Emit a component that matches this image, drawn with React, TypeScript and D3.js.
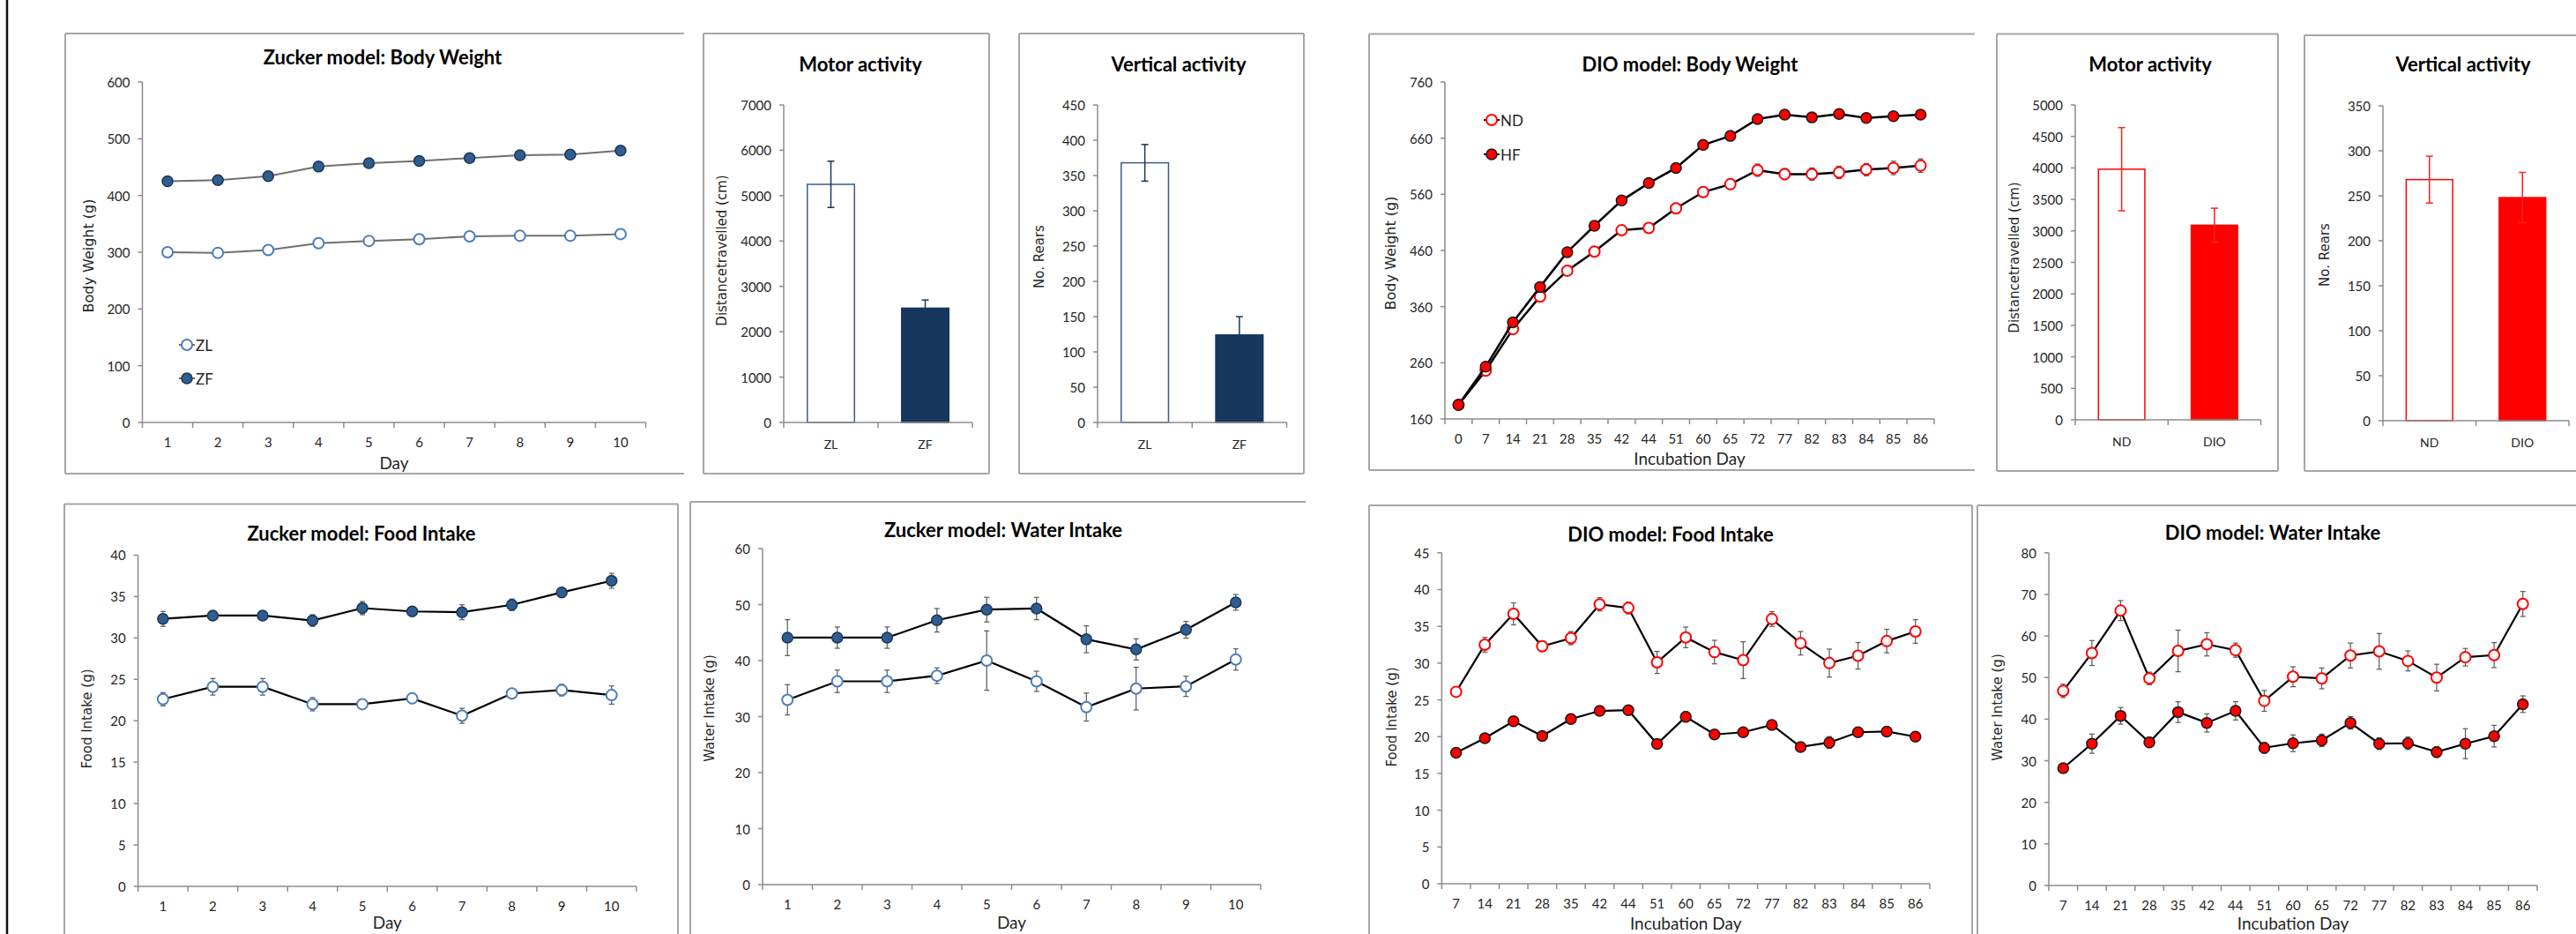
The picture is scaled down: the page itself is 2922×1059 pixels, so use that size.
import React, { useEffect } from 'react';
import * as d3 from 'd3';

const W = 2922;
const H = 1059;

// ---------- data ----------
const zuckerDays = ['1', '2', '3', '4', '5', '6', '7', '8', '9', '10'];
const zlWeight = [300, 299, 304, 316, 320, 323, 328, 329, 329, 332];
const zlWeightErr = [3, 3, 3, 3, 3, 3, 3, 3, 3, 3];
const zfWeight = [425, 427, 434, 451, 457, 461, 466, 471, 472, 479];
const zfWeightErr = [5, 5, 5, 5, 5, 5, 5, 5, 5, 5];

const zlFood = [22.6, 24.1, 24.1, 22.0, 22.0, 22.7, 20.6, 23.3, 23.7, 23.1];
const zlFoodErr = [0.8, 1.0, 1.0, 0.8, 0.5, 0.6, 0.9, 0.5, 0.7, 1.1];
const zfFood = [32.3, 32.7, 32.7, 32.1, 33.6, 33.2, 33.1, 34.0, 35.5, 36.9];
const zfFoodErr = [0.9, 0.5, 0.5, 0.7, 0.8, 0.5, 0.9, 0.7, 0.5, 0.9];

const zlWater = [33.0, 36.3, 36.3, 37.3, 40.0, 36.3, 31.7, 35.0, 35.4, 40.2];
const zlWaterErr = [2.7, 2.0, 2.0, 1.4, 5.3, 1.8, 2.5, 3.8, 1.8, 1.9];
const zfWater = [44.1, 44.1, 44.1, 47.2, 49.1, 49.3, 43.8, 42.0, 45.5, 50.4];
const zfWaterErr = [3.2, 1.9, 1.9, 2.1, 2.2, 2.0, 2.4, 1.9, 1.5, 1.4];

const dioWeightDays = ['0', '7', '14', '21', '28', '35', '42', '44', '51', '60', '65', '72', '77', '82', '83', '84', '85', '86'];
const ndWeight = [185, 246, 320, 378, 424, 458, 496, 500, 535, 564, 578, 603, 596, 596, 599, 604, 607, 611];
const ndWeightErr = [2, 3, 4, 4, 4, 5, 6, 7, 9, 9, 9, 11, 10, 11, 11, 11, 12, 12];
const hfWeight = [185, 253, 332, 395, 457, 504, 549, 580, 607, 648, 664, 694, 702, 697, 703, 696, 699, 702];
const hfWeightErr = [2, 3, 3, 3, 3, 4, 4, 7, 5, 5, 5, 5, 5, 5, 5, 6, 5, 5];

const dioIntakeDays = ['7', '14', '21', '28', '35', '42', '44', '51', '60', '65', '72', '77', '82', '83', '84', '85', '86'];
const ndFood = [26.1, 32.5, 36.7, 32.3, 33.4, 38.0, 37.5, 30.1, 33.5, 31.5, 30.4, 36.0, 32.7, 30.0, 31.0, 33.0, 34.3];
const ndFoodErr = [0.6, 1.0, 1.5, 0.7, 0.9, 0.9, 0.8, 1.5, 1.4, 1.6, 2.5, 1.0, 1.6, 1.9, 1.8, 1.6, 1.6];
const hfFood = [17.8, 19.8, 22.1, 20.1, 22.4, 23.5, 23.6, 19.0, 22.7, 20.3, 20.6, 21.6, 18.6, 19.2, 20.6, 20.7, 20.0];
const hfFoodErr = [0.5, 0.5, 0.6, 0.5, 0.6, 0.6, 0.6, 0.5, 0.7, 0.6, 0.6, 0.6, 0.5, 0.8, 0.6, 0.6, 0.6];

const ndWater = [46.8, 55.9, 66.1, 49.8, 56.4, 58.0, 56.6, 44.4, 50.2, 49.8, 55.3, 56.3, 54.0, 50.0, 54.9, 55.4, 67.7];
const ndWaterErr = [1.6, 3.0, 2.4, 1.5, 5.0, 2.8, 1.7, 2.5, 2.4, 2.5, 3.0, 4.3, 2.4, 3.2, 2.1, 3.0, 3.0];
const hfWater = [28.2, 34.1, 40.8, 34.4, 41.7, 39.1, 42.0, 33.1, 34.2, 34.9, 39.1, 34.1, 34.2, 32.1, 34.1, 35.9, 43.6];
const hfWaterErr = [1.0, 2.3, 2.0, 1.2, 2.5, 2.2, 2.2, 1.3, 2.0, 1.5, 1.5, 1.4, 1.5, 1.3, 3.6, 2.6, 2.0];

const zuckerGroups = ['ZL', 'ZF'];
const zuckerDistance = [5250, 2520];
const zuckerDistanceErr = [510, 180];
const zuckerRears = [368, 124];
const zuckerRearsErr = [26, 26];

const dioGroups = ['ND', 'DIO'];
const dioDistance = [3980, 3090];
const dioDistanceErr = [660, 270];
const dioRears = [268, 248];
const dioRearsErr = [26, 28];

// ---------- styles ----------
const TITLE_FONT = 'Lato, "Open Sans", sans-serif';
const LABEL_FONT = '"DejaVu Sans", Verdana, sans-serif';
const BORDER = '#a6a6a6';
const AXIS = '#8c8c8c';
const TEXT = '#262626';

const ZL_STYLE = { fill: '#ffffff', stroke: '#4a7ebb', sw: 2 };
const ZF_STYLE = { fill: '#2f5d8f', stroke: '#1c3556', sw: 1.5 };
const ND_STYLE = { fill: '#ffffff', stroke: '#ff0000', sw: 2 };
const HF_STYLE = { fill: '#ff0000', stroke: '#1a1a1a', sw: 1.5 };

// panel borders: which sides are visible
function Border({ b }) {
  const segs = [];
  if (b.sides.includes('l')) segs.push([b.x0, b.y0, b.x0, b.y1]);
  if (b.sides.includes('t')) segs.push([b.x0, b.y0, b.x1, b.y0]);
  if (b.sides.includes('r')) segs.push([b.x1, b.y0, b.x1, b.y1]);
  if (b.sides.includes('b')) segs.push([b.x0, b.y1, b.x1, b.y1]);
  return (
    <g>
      {segs.map((s, i) => (
        <line key={i} x1={s[0]} y1={s[1]} x2={s[2]} y2={s[3]} stroke={BORDER} strokeWidth={2} />
      ))}
    </g>
  );
}

function Axes({ p, x, y, ticks, catLabelDy, catFont }) {
  const { x0, x1, y0, y1 } = p.plot;
  const bounds = d3.range(p.cats.length + 1).map(i => x0 + i * ((x1 - x0) / p.cats.length));
  return (
    <g>
      <line x1={x0} x2={x0} y1={y0} y2={y1} stroke={AXIS} strokeWidth={1.5} />
      <line x1={x0} x2={x1} y1={y1} y2={y1} stroke={AXIS} strokeWidth={1.5} />
      {ticks.map(t => (
        <g key={t}>
          <line x1={x0 - 5} x2={x0} y1={y(t)} y2={y(t)} stroke={AXIS} strokeWidth={1.5} />
          <text x={x0 - 14} y={y(t)} textAnchor="end" dominantBaseline="central"
            fontFamily={TITLE_FONT} fontSize={15} fill={TEXT}>{t}</text>
        </g>
      ))}
      {bounds.map((bx, i) => (
        <line key={i} x1={bx} x2={bx} y1={y1} y2={y1 + 6} stroke={AXIS} strokeWidth={1.5} />
      ))}
      {p.cats.map(c => (
        <text key={c} x={x(c) + x.bandwidth() / 2} y={y1 + catLabelDy} textAnchor="middle"
          dominantBaseline="central" fontFamily={TITLE_FONT} fontSize={catFont} fill={TEXT}>{c}</text>
      ))}
      <text x={p.titleX} y={p.titleY} textAnchor="middle" dominantBaseline="central"
        fontFamily={TITLE_FONT} fontWeight="bold" fontSize={22} fill="#000">{p.title}</text>
      <text transform={`translate(${p.yLabelX},${p.yLabelY}) rotate(-90)`} textAnchor="middle"
        dominantBaseline="central" fontFamily={LABEL_FONT} fontSize={p.yLabelSize || 15} fill={TEXT}>{p.yLabel}</text>
      {p.xLabel && (
        <text x={(x0 + x1) / 2} y={y1 + p.xLabelDy} textAnchor="middle" dominantBaseline="central"
          fontFamily={TITLE_FONT} fontSize={19} fill={TEXT}>{p.xLabel}</text>
      )}
    </g>
  );
}

function Marker({ cx, cy, st, r = 6 }) {
  return <circle cx={cx} cy={cy} r={r} fill={st.fill} stroke={st.stroke} strokeWidth={st.sw} />;
}

function LinePanel({ p }) {
  const { x0, x1, y0, y1 } = p.plot;
  const x = d3.scaleBand().domain(p.cats).range([x0, x1]).padding(0);
  const y = d3.scaleLinear().domain(p.yDomain).range([y1, y0]);
  const ticks = d3.range(p.yDomain[0], p.yDomain[1] + p.yStep / 2, p.yStep);
  const cx = (i: number) => x(p.cats[i]) + x.bandwidth() / 2;
  const line = d3.line<number>().x((_, i) => cx(i)).y(d => y(d));
  return (
    <g>
      <Border b={p.box} />
      <Axes p={p} x={x} y={y} ticks={ticks} catLabelDy={22} catFont={15} />
      {p.series.map((s, si) => (
        <g key={si}>
          {s.values.map((v, i) => (
            <g key={i} stroke="#595959" strokeWidth={1.2}>
              <line x1={cx(i)} x2={cx(i)} y1={y(v - s.errs[i])} y2={y(v + s.errs[i])} />
              <line x1={cx(i) - 3} x2={cx(i) + 3} y1={y(v - s.errs[i])} y2={y(v - s.errs[i])} />
              <line x1={cx(i) - 3} x2={cx(i) + 3} y1={y(v + s.errs[i])} y2={y(v + s.errs[i])} />
            </g>
          ))}
          <path d={line(s.values)} fill="none" stroke={p.lineColor} strokeWidth={p.lineWidth} />
          {s.values.map((v, i) => (
            <Marker key={i} cx={cx(i)} cy={y(v)} st={s.style} />
          ))}
        </g>
      ))}
      {p.legend && p.legend.items.map(([label, st], i) => {
        const ly = p.legend.y + i * p.legend.gap;
        return (
          <g key={label}>
            <line x1={p.legend.x - 9} x2={p.legend.x + 9} y1={ly} y2={ly} stroke={p.lineColor} strokeWidth={2} />
            <Marker cx={p.legend.x} cy={ly} st={st} />
            <text x={p.legend.x + 10} y={ly} dominantBaseline="central" fontFamily={TITLE_FONT}
              fontSize={17} fill={TEXT}>{label}</text>
          </g>
        );
      })}
    </g>
  );
}

function BarPanel({ p }) {
  const { x0, x1, y0, y1 } = p.plot;
  const x = d3.scaleBand().domain(p.cats).range([x0, x1]).paddingInner(0.5).paddingOuter(0.25);
  const y = d3.scaleLinear().domain(p.yDomain).range([y1, y0]);
  const ticks = d3.range(p.yDomain[0], p.yDomain[1] + p.yStep / 2, p.yStep);
  return (
    <g>
      <Border b={p.box} />
      {p.values.map((v, i) => (
        <rect key={i} x={x(p.cats[i])} y={y(v)} width={x.bandwidth()} height={y(0) - y(v)}
          fill={p.styles[i].fill} stroke={p.styles[i].stroke} strokeWidth={1.5} />
      ))}
      <Axes p={p} x={x} y={y} ticks={ticks} catLabelDy={24} catFont={14} />
      {p.values.map((v, i) => {
        const c = x(p.cats[i]) + x.bandwidth() / 2;
        const hi = y(v + p.errs[i]);
        const lo = y(v - p.errs[i]);
        return (
          <g key={i} stroke={p.errColor} strokeWidth={1.5}>
            <line x1={c} x2={c} y1={hi} y2={lo} />
            <line x1={c - 4} x2={c + 4} y1={hi} y2={hi} />
            <line x1={c - 4} x2={c + 4} y1={lo} y2={lo} />
          </g>
        );
      })}
    </g>
  );
}

// ---------- panel layouts ----------
const linePanels = [
  {
    box: { x0: 74, y0: 38, x1: 776, y1: 537, sides: 'ltb' },
    plot: { x0: 161.5, x1: 732.5, y0: 93, y1: 479 },
    title: 'Zucker model: Body Weight', titleX: 434, titleY: 64,
    yLabel: 'Body Weight (g)', yLabelX: 100, yLabelY: 290, yLabelSize: 16,
    xLabel: 'Day', xLabelDy: 45,
    cats: zuckerDays, yDomain: [0, 600], yStep: 100,
    lineColor: '#6f6f6f', lineWidth: 2,
    series: [
      { values: zlWeight, errs: zlWeightErr, style: ZL_STYLE },
      { values: zfWeight, errs: zfWeightErr, style: ZF_STYLE },
    ],
    legend: { x: 212, y: 391, gap: 38, items: [['ZL', ZL_STYLE], ['ZF', ZF_STYLE]] },
  },
  {
    box: { x0: 1553, y0: 38.6, x1: 2240, y1: 533, sides: 'ltb' },
    plot: { x0: 1639, x1: 2194, y0: 93, y1: 475 },
    title: 'DIO model: Body Weight', titleX: 1917, titleY: 72,
    yLabel: 'Body Weight (g)', yLabelX: 1577.5, yLabelY: 287, yLabelSize: 16,
    xLabel: 'Incubation Day', xLabelDy: 44,
    cats: dioWeightDays, yDomain: [160, 760], yStep: 100,
    lineColor: '#000', lineWidth: 2.5,
    series: [
      { values: ndWeight, errs: ndWeightErr, style: ND_STYLE },
      { values: hfWeight, errs: hfWeightErr, style: HF_STYLE },
    ],
    legend: { x: 1692, y: 136, gap: 39, items: [['ND', ND_STYLE], ['HF', HF_STYLE]] },
  },
  {
    box: { x0: 73, y0: 571.5, x1: 769, y1: 1080, sides: 'ltr' },
    plot: { x0: 156.6, x1: 722, y0: 629.4, y1: 1005 },
    title: 'Zucker model: Food Intake', titleX: 410, titleY: 604,
    yLabel: 'Food Intake (g)', yLabelX: 99, yLabelY: 815,
    xLabel: 'Day', xLabelDy: 40,
    cats: zuckerDays, yDomain: [0, 40], yStep: 5,
    lineColor: '#000', lineWidth: 2.2,
    series: [
      { values: zlFood, errs: zlFoodErr, style: ZL_STYLE },
      { values: zfFood, errs: zfFoodErr, style: ZF_STYLE },
    ],
  },
  {
    box: { x0: 783, y0: 569, x1: 1481, y1: 1080, sides: 'lt' },
    plot: { x0: 865, x1: 1430, y0: 622, y1: 1003 },
    title: 'Zucker model: Water Intake', titleX: 1138, titleY: 600,
    yLabel: 'Water Intake (g)', yLabelX: 805, yLabelY: 803,
    xLabel: 'Day', xLabelDy: 42,
    cats: zuckerDays, yDomain: [0, 60], yStep: 10,
    lineColor: '#000', lineWidth: 2.2,
    series: [
      { values: zlWater, errs: zlWaterErr, style: ZL_STYLE },
      { values: zfWater, errs: zfWaterErr, style: ZF_STYLE },
    ],
  },
  {
    box: { x0: 1553, y0: 573, x1: 2237, y1: 1080, sides: 'ltr' },
    plot: { x0: 1635.4, x1: 2189, y0: 626.8, y1: 1002 },
    title: 'DIO model:  Food Intake', titleX: 1895, titleY: 605,
    yLabel: 'Food Intake (g)', yLabelX: 1579, yLabelY: 813,
    xLabel: 'Incubation Day', xLabelDy: 44,
    cats: dioIntakeDays, yDomain: [0, 45], yStep: 5,
    lineColor: '#000', lineWidth: 2.2,
    series: [
      { values: ndFood, errs: ndFoodErr, style: ND_STYLE },
      { values: hfFood, errs: hfFoodErr, style: HF_STYLE },
    ],
  },
  {
    box: { x0: 2243, y0: 573, x1: 2940, y1: 1080, sides: 'lt' },
    plot: { x0: 2324, x1: 2878, y0: 626.8, y1: 1004 },
    title: 'DIO model:  Water Intake', titleX: 2578, titleY: 603,
    yLabel: 'Water Intake (g)', yLabelX: 2266, yLabelY: 802,
    xLabel: 'Incubation Day', xLabelDy: 42,
    cats: dioIntakeDays, yDomain: [0, 80], yStep: 10,
    lineColor: '#000', lineWidth: 2.2,
    series: [
      { values: ndWater, errs: ndWaterErr, style: ND_STYLE },
      { values: hfWater, errs: hfWaterErr, style: HF_STYLE },
    ],
  },
];

const zuckerBarStyles = [{ fill: '#ffffff', stroke: '#385d8a' }, { fill: '#17375e', stroke: '#17375e' }];
const dioBarStyles = [{ fill: '#ffffff', stroke: '#ff0000' }, { fill: '#ff0000', stroke: '#ff0000' }];

const barPanels = [
  {
    box: { x0: 798, y0: 38, x1: 1122, y1: 537, sides: 'ltrb' },
    plot: { x0: 889, x1: 1103, y0: 119, y1: 479 },
    title: 'Motor activity', titleX: 976, titleY: 72,
    yLabel: 'Distancetravelled (cm)', yLabelX: 819, yLabelY: 284,
    cats: zuckerGroups, values: zuckerDistance, errs: zuckerDistanceErr,
    yDomain: [0, 7000], yStep: 1000, styles: zuckerBarStyles, errColor: '#17375e',
  },
  {
    box: { x0: 1156, y0: 38, x1: 1479, y1: 537, sides: 'ltrb' },
    plot: { x0: 1245, x1: 1459.5, y0: 119, y1: 479 },
    title: 'Vertical activity', titleX: 1337, titleY: 72,
    yLabel: 'No. Rears', yLabelX: 1178.5, yLabelY: 291,
    cats: zuckerGroups, values: zuckerRears, errs: zuckerRearsErr,
    yDomain: [0, 450], yStep: 50, styles: zuckerBarStyles, errColor: '#17375e',
  },
  {
    box: { x0: 2265, y0: 38.6, x1: 2584, y1: 534, sides: 'ltrb' },
    plot: { x0: 2354, x1: 2564.5, y0: 119, y1: 476 },
    title: 'Motor activity', titleX: 2439, titleY: 72,
    yLabel: 'Distancetravelled (cm)', yLabelX: 2285, yLabelY: 292,
    cats: dioGroups, values: dioDistance, errs: dioDistanceErr,
    yDomain: [0, 5000], yStep: 500, styles: dioBarStyles, errColor: '#ff2020',
  },
  {
    box: { x0: 2614, y0: 40, x1: 2940, y1: 534, sides: 'ltb' },
    plot: { x0: 2703, x1: 2914, y0: 120, y1: 477 },
    title: 'Vertical activity', titleX: 2794, titleY: 72,
    yLabel: 'No. Rears', yLabelX: 2637, yLabelY: 289,
    cats: dioGroups, values: dioRears, errs: dioRearsErr,
    yDomain: [0, 350], yStep: 50, styles: dioBarStyles, errColor: '#ff2020',
  },
];

export default function App() {
  useEffect(() => {
    document.body.style.margin = '0';
    document.body.style.overflow = 'hidden';
  }, []);

  return (
    <svg width={W} height={H} style={{ position: 'absolute', left: 0, top: 0, background: '#fff' }}>
      <rect x={0} y={0} width={W} height={H} fill="#ffffff" />
      <line x1={8} x2={8} y1={0} y2={H} stroke="#111" strokeWidth={2.5} />
      {linePanels.map((p, i) => <LinePanel key={i} p={p} />)}
      {barPanels.map((p, i) => <BarPanel key={i} p={p} />)}
    </svg>
  );
}
